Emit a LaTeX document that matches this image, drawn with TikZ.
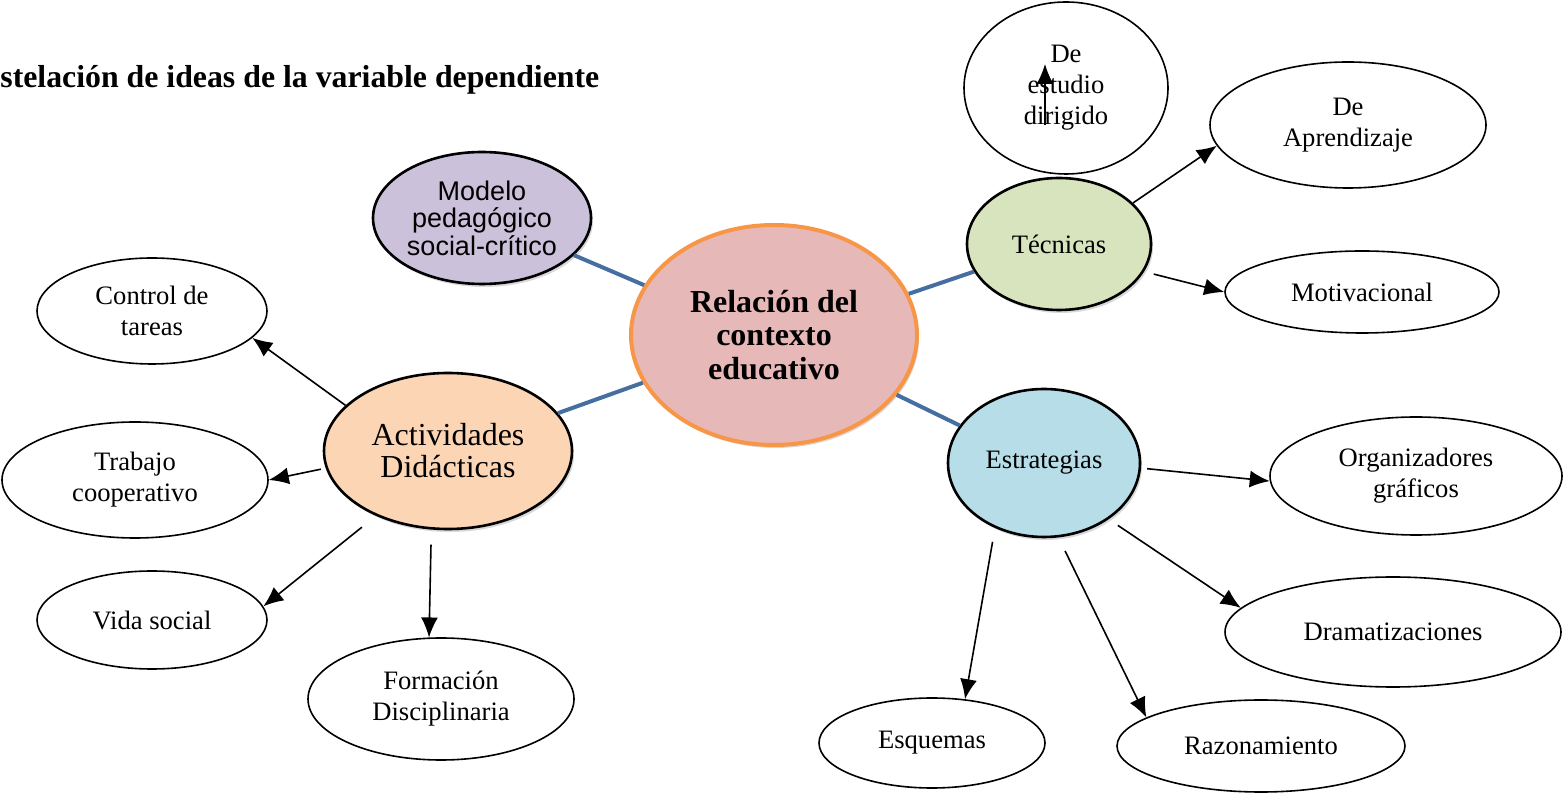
\documentclass[tikz,border=0pt]{standalone}
\usepackage{fontspec}
\setmainfont{Liberation Serif}
\newfontfamily\arialfont{Liberation Sans}
\usetikzlibrary{shapes.geometric,arrows.meta,shadows}
\definecolor{azulcon}{HTML}{466EA0}
\definecolor{rosacen}{HTML}{E6B8B7}
\definecolor{naranjacen}{HTML}{F79646}
\definecolor{lilamod}{HTML}{CCC1DA}
\definecolor{durazno}{HTML}{FCD5B5}
\definecolor{verdetec}{HTML}{D7E4BD}
\definecolor{celeste}{HTML}{B7DEE8}
\tikzset{
  idea/.style={ellipse,draw,line width=0.8pt,inner sep=0pt,align=center,
    font=\fontsize{13.3}{15.5}\selectfont},
  eje/.style={idea,line width=1.3pt,drop shadow={opacity=0.3,shadow xshift=1pt,shadow yshift=-1.5pt}},
  enlace/.style={azulcon,line width=2pt},
  flecha/.style={line width=0.8pt,-{Latex[length=10pt,width=8.5pt]}}
}
\begin{document}
\begin{tikzpicture}[x=0.5pt,y=-0.5pt]
\useasboundingbox (0,0) rectangle (1563,795);
% titulo
\node[anchor=base west,inner sep=0pt,font=\bfseries\fontsize{15.9}{18}\selectfont] (titulo) at (0,88) {stelación de ideas de la variable dependiente};
% nodo central
\node[eje,fill=rosacen,draw=naranjacen,line width=2pt,minimum width=143pt,minimum height=110pt,
  font=\bfseries\fontsize{16}{16.8}\selectfont] (cen) at (774,335) {Relación del\\contexto\\educativo};
% ideas principales
\node[eje,fill=lilamod,minimum width=109pt,minimum height=66pt,
  font=\arialfont\fontsize{13.5}{13.8}\selectfont] (mod) at (482,218) {Modelo\\pedagógico\\social-crítico};
\node[eje,fill=durazno,minimum width=124pt,minimum height=78pt,
  font=\fontsize{16}{16}\selectfont] (act) at (448,451) {Actividades\\Didácticas};
\node[eje,fill=verdetec,minimum width=92pt,minimum height=66pt] (tec) at (1059,244) {Técnicas};
\node[eje,fill=celeste,minimum width=96pt,minimum height=74pt] (est) at (1044,463) {Estrategias};
% ideas secundarias
\node[idea,minimum width=102pt,minimum height=86pt] (dir) at (1066,88) {De\\estudio\\dirigido};
\node[idea,minimum width=138pt,minimum height=63pt] (apr) at (1348,125) {De\\Aprendizaje};
\node[idea,minimum width=137pt,minimum height=41pt] (mot) at (1362,292) {Motivacional};
\node[idea,minimum width=115pt,minimum height=53pt] (ctrl) at (152,311) {Control de\\tareas};
\node[idea,minimum width=133pt,minimum height=58pt] (trab) at (135,480) {Trabajo\\cooperativo};
\node[idea,minimum width=115pt,minimum height=49pt] (vida) at (152,620) {Vida social};
\node[idea,minimum width=133pt,minimum height=61pt] (form) at (441,699) {Formación\\Disciplinaria};
\node[idea,minimum width=146pt,minimum height=59pt] (org) at (1416,476) {Organizadores\\gráficos};
\node[idea,minimum width=168pt,minimum height=55pt] (dram) at (1393,632) {Dramatizaciones};
\node[idea,minimum width=113pt,minimum height=45pt] (esq) at (932,743) {Esquemas};
\node[idea,minimum width=144pt,minimum height=46pt] (raz) at (1261,746) {Razonamiento};
% enlaces al centro
\draw[enlace] (mod.-22) -- (cen.159);
\draw[enlace] (act.19) -- (cen.200);
\draw[enlace] (tec.198) -- (cen.17);
\draw[enlace] (est.156) -- (cen.-26);
% flechas
\draw[flecha] (tec.29) -- (apr.189);
\draw[flecha,shorten <=5pt] (tec.-18) -- (mot.west);
\draw[flecha] ([shift={(-21,37)}]dir.center) -- ([shift={(-21,-24)}]dir.center);
\draw[flecha] (act.156) -- (ctrl.-15);
\draw[flecha,shorten <=2.5pt] (act.188) -- (trab.east);
\draw[flecha,shorten <=9pt] (act.222) -- (vida.7);
\draw[flecha,shorten <=7.5pt] (act.258) -- (form.101);
\draw[flecha,shorten <=3pt] (est.-3) -- (org.182);
\draw[flecha,shorten <=5.5pt] (est.-41) -- (dram.171);
\draw[flecha,shorten <=7.5pt] (est.-79) -- (raz.166);
\draw[flecha,shorten <=7pt] (est.233) -- (esq.53);
\end{tikzpicture}
\end{document}
